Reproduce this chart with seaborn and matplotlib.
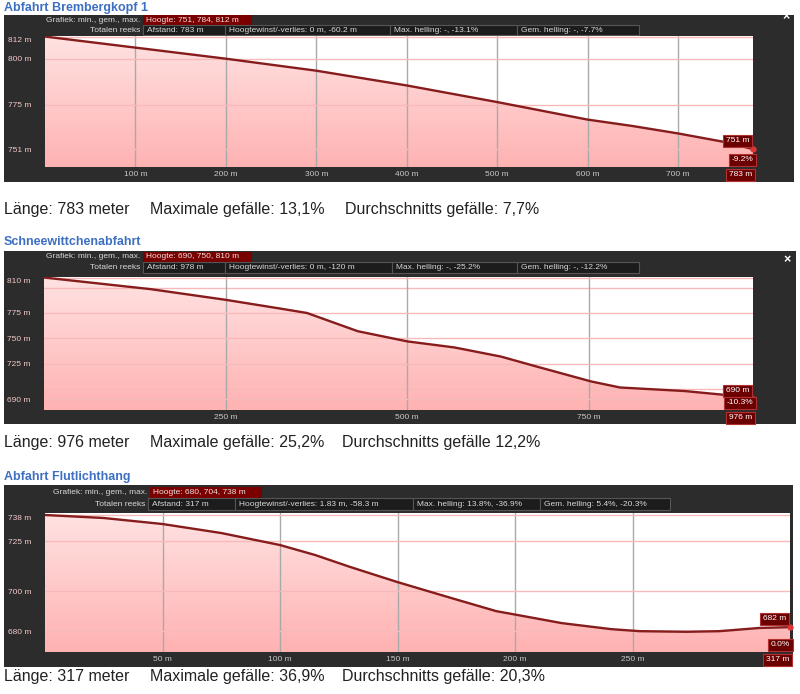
import numpy as np
import matplotlib
matplotlib.use("Agg")
import matplotlib.pyplot as plt
from matplotlib.colors import LinearSegmentedColormap
from matplotlib.patches import Rectangle
import seaborn as sns

sns.set_style("white")
plt.rcParams['font.family'] = ['Liberation Sans', 'DejaVu Sans']

W, H = 800, 694

# ---- data ----
titles = ["Abfahrt Brembergkopf 1", "Schneewittchenabfahrt", "Abfahrt Flutlichthang"]

dist_1 = [0, 100, 200, 300, 400, 500, 600, 650, 700, 750, 783]
elev_1 = [812, 806, 800, 793.5, 785.5, 776.5, 767, 763.5, 759.5, 755, 751]

dist_2 = [0, 147, 250, 324, 362, 432, 500, 565, 629, 679, 753, 793, 882, 940, 976]
elev_2 = [810, 798.5, 788, 779.5, 775, 757, 747, 741, 732, 722, 707.5, 701.5, 698, 694, 690]

dist_3 = [0, 25, 50, 75, 100, 115, 130, 150, 173, 192, 200, 220, 241, 253, 273, 287, 304, 317]
elev_3 = [738, 736.5, 733.5, 729, 723, 718, 712, 704.5, 696.5, 690, 688.3, 684, 681, 680,
          679.7, 680, 681.6, 682]

xticks_1 = [100, 200, 300, 400, 500, 600, 700]
xticks_2 = [250, 500, 750]
xticks_3 = [50, 100, 150, 200, 250]
yticks_1 = [751, 775, 800, 812]
yticks_2 = [690, 725, 750, 775, 810]
yticks_3 = [680, 700, 725, 738]
extra_grid_2 = [700, 800]

hoogte = ["Hoogte: 751, 784, 812 m", "Hoogte: 690, 750, 810 m", "Hoogte: 680, 704, 738 m"]
afstand = ["Afstand: 783 m", "Afstand: 978 m", "Afstand: 317 m"]
winst = ["Hoogtewinst/-verlies: 0 m, -60.2 m", "Hoogtewinst/-verlies: 0 m, -120 m",
         "Hoogtewinst/-verlies: 1.83 m, -58.3 m"]
max_hel = ["Max. helling: -, -13.1%", "Max. helling: -, -25.2%", "Max. helling: 13.8%, -36.9%"]
gem_hel = ["Gem. helling: -, -7.7%", "Gem. helling: -, -12.2%", "Gem. helling: 5.4%, -20.3%"]
end_grade = ["-9.2%", "-10.3%", "0.0%"]

laenge = ["Länge: 783 meter", "Länge: 976 meter", "Länge: 317 meter"]
maxgef = ["Maximale gefälle: 13,1%", "Maximale gefälle: 25,2%", "Maximale gefälle: 36,9%"]
durch = ["Durchschnitts gefälle: 7,7%", "Durchschnitts gefälle 12,2%", "Durchschnitts gefälle: 20,3%"]

# ---- layout in pixels (top-left origin) ----
panels = [
    dict(d=dist_1, e=elev_1, xt=xticks_1, yt=yticks_1, xg=[], ylim=(741.3, 812.3),
         title_y=8, frame=(4, 15, 794, 182), plot=(45, 36, 753, 167),
         row1=(15, 25), row2=(25, 35), hbox=(143, 252), edges=[143, 225, 390, 517, 639],
         close=(786, 17), sum_y=209, sum_x=[4, 150, 345]),
    dict(d=dist_2, e=elev_2, xt=xticks_2, yt=yticks_2, xg=extra_grid_2, ylim=(679.3, 810.5),
         title_y=242, frame=(4, 251, 796, 424), plot=(44, 277, 753, 410),
         row1=(252, 262), row2=(262, 273), hbox=(143, 252), edges=[143, 225, 392, 517, 639],
         close=(787, 260), sum_y=442, sum_x=[4, 150, 342]),
    dict(d=dist_3, e=elev_3, xt=xticks_3, yt=yticks_3, xg=[], ylim=(669.6, 739.0),
         title_y=477, frame=(4, 485, 793, 667), plot=(45, 513, 790, 652),
         row1=(487, 498), row2=(498, 510), hbox=(150, 262), edges=[148, 235, 413, 540, 670],
         close=None, sum_y=677, sum_x=[4, 150, 342]),
]

FRAME = '#2c2c2c'
BOX = '#1c1c1c'
BOXEDGE = '#555555'
RED = '#7a0000'
HEAD_TXT = '#d8d8d8'
LINE = '#861c1c'

pink = LinearSegmentedColormap.from_list("pink", ['#ffe2e2', '#ffb2b2'])


def frect(x0, y0, x1, y1):
    return [x0 / W, 1 - y1 / H, (x1 - x0) / W, (y1 - y0) / H]


def fbox(fig, x0, y0, x1, y1, fc, ec='none', lw=0.0, z=-2):
    r = frect(x0, y0, x1, y1)
    fig.add_artist(Rectangle((r[0], r[1]), r[2], r[3], transform=fig.transFigure,
                             fc=fc, ec=ec, lw=lw, zorder=z))


def ftext(fig, x, y, s, **kw):
    return fig.text(x / W, 1 - y / H, s, **kw)


fig = plt.figure(figsize=(W / 100, H / 100), dpi=100)
fig.patch.set_facecolor('white')

lab_box = dict(boxstyle='square,pad=0.3', fc='#6a0000', ec='#b33030', lw=0.8)

for i, p in enumerate(panels):
    fx0, fy0, fx1, fy1 = p['frame']
    fbox(fig, fx0, fy0, fx1, fy1, FRAME, z=-3)

    # title above the frame
    ftext(fig, 4, p['title_y'], titles[i], color='#3d6fc2', fontsize=9,
          fontweight='bold', ha='left', va='center')

    # header row 1
    r0, r1 = p['row1']
    hx0, hx1 = p['hbox']
    fbox(fig, hx0, r0, hx1, r1, RED)
    ftext(fig, hx0 - 3, (r0 + r1) / 2, "Grafiek: min., gem., max.", color=HEAD_TXT,
          fontsize=6, ha='right', va='center', zorder=3)
    ftext(fig, hx0 + 3, (r0 + r1) / 2, hoogte[i], color='#f0e0e0', fontsize=6,
          ha='left', va='center', zorder=3)

    # header row 2
    r0, r1 = p['row2']
    ed = p['edges']
    ftext(fig, ed[0] - 3, (r0 + r1) / 2, "Totalen reeks", color=HEAD_TXT,
          fontsize=6, ha='right', va='center', zorder=3)
    for j, s in enumerate([afstand[i], winst[i], max_hel[i], gem_hel[i]]):
        fbox(fig, ed[j], r0, ed[j + 1], r1, BOX, ec=BOXEDGE, lw=0.8)
        ftext(fig, ed[j] + 4, (r0 + r1) / 2, s, color=HEAD_TXT, fontsize=6,
              ha='left', va='center', zorder=3)

    if p['close'] is not None:
        ftext(fig, p['close'][0], p['close'][1], "×", color='white', fontsize=9,
              fontweight='bold', ha='center', va='center', zorder=3)

    # profile axes
    ax = fig.add_axes(frect(*p['plot']))
    ax.set_facecolor('white')
    d, e = p['d'], p['e']
    xmax = d[-1]
    y0, y1 = p['ylim']

    poly = ax.fill_between(d, e, y0, facecolor='none', edgecolor='none')
    grad = np.linspace(0, 1, 256).reshape(-1, 1)
    img = ax.imshow(grad, extent=[0, xmax, y0, y1], aspect='auto', cmap=pink, zorder=0)
    img.set_clip_path(poly.get_paths()[0], transform=ax.transData)

    sns.lineplot(x=d, y=e, ax=ax, color=LINE, linewidth=1.7, zorder=4)
    ax.plot(d[-1], e[-1], 'o', ms=3.5, color='#e03535', zorder=5, clip_on=False)

    for g in p['xg']:
        ax.axhline(g, color='#f6baba', lw=1.0, zorder=2.5)

    ax.set_xlim(0, xmax)
    ax.set_ylim(y0, y1)
    ax.set_axisbelow(False)
    ax.xaxis.grid(True, color='#a9a9a9', lw=1.0)
    ax.yaxis.grid(True, color='#f6baba', lw=1.0)
    for sp in ax.spines.values():
        sp.set_visible(False)
    ax.set_xlabel('')
    ax.set_ylabel('')

    ax.set_xticks(p['xt'])
    ax.set_xticklabels([f"{v} m" for v in p['xt']])
    ax.tick_params(axis='x', length=0, pad=3, labelsize=6, labelcolor='#c8c8c8')
    ax.set_yticks(p['yt'])
    ylabs = ax.set_yticklabels([f"{v} m" for v in p['yt']])
    ylabs[-1].set_verticalalignment('top')
    ax.tick_params(axis='y', length=0, pad=10, labelsize=6, labelcolor='#f2c8c8')

    # end-of-track labels
    ax.annotate(f"{e[-1]:.0f} m", xy=(d[-1], e[-1]), xytext=(-4, 5),
                textcoords='offset pixels', ha='right', va='bottom', fontsize=6,
                color='white', bbox=lab_box, zorder=6, annotation_clip=False)
    ax.annotate(end_grade[i], xy=(1, 0), xycoords='axes fraction', xytext=(0, 4),
                textcoords='offset pixels', ha='right', va='bottom', fontsize=6,
                color='white', bbox=lab_box, zorder=6, annotation_clip=False)
    ax.annotate(f"{xmax} m", xy=(1, 0), xycoords='axes fraction', xytext=(-1, -4),
                textcoords='offset pixels', ha='right', va='top', fontsize=6,
                color='white', bbox=lab_box, zorder=6, annotation_clip=False)

    # summary line below the frame
    for x, s in zip(p['sum_x'], [laenge[i], maxgef[i], durch[i]]):
        ftext(fig, x, p['sum_y'], s, color='#222222', fontsize=11.5, ha='left', va='center')

fig.savefig("out.png", dpi=100, facecolor='white')
